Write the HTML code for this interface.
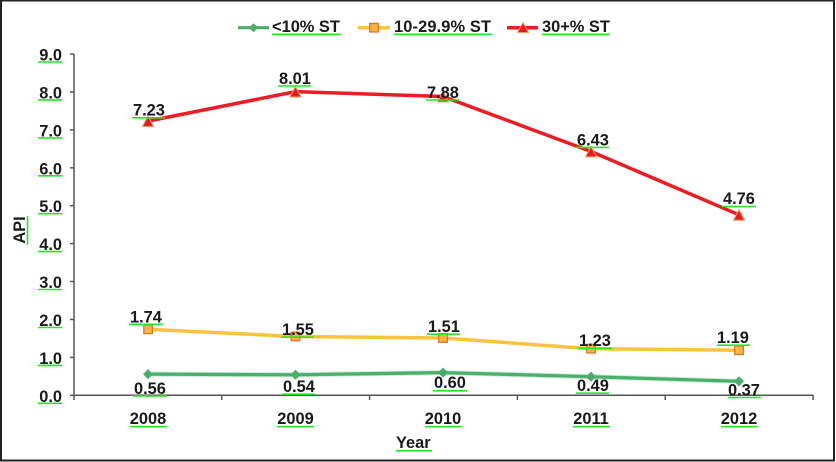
<!DOCTYPE html>
<html>
<head>
<meta charset="utf-8">
<style>
html,body{margin:0;padding:0;background:#fff;}
svg{display:block;}
text{font-family:"Liberation Sans",Arial,sans-serif;font-weight:bold;font-size:16.4px;fill:#1a1a1a;}
</style>
</head>
<body>
<svg width="836" height="462" viewBox="0 0 836 462" xmlns="http://www.w3.org/2000/svg">
<rect x="0" y="0" width="836" height="462" fill="#fff"/>
<rect x="1" y="0.5" width="833" height="460" fill="none" stroke="#222" stroke-width="2"/>

<!-- axes -->
<g stroke="#555" stroke-width="1.5" fill="none">
<line x1="74" y1="54" x2="74" y2="396"/>
<line x1="74" y1="395.3" x2="813" y2="395.3"/>
<line x1="70" y1="54" x2="74" y2="54"/>
<line x1="70" y1="91.9" x2="74" y2="91.9"/>
<line x1="70" y1="129.9" x2="74" y2="129.9"/>
<line x1="70" y1="167.8" x2="74" y2="167.8"/>
<line x1="70" y1="205.7" x2="74" y2="205.7"/>
<line x1="70" y1="243.6" x2="74" y2="243.6"/>
<line x1="70" y1="281.5" x2="74" y2="281.5"/>
<line x1="70" y1="319.5" x2="74" y2="319.5"/>
<line x1="70" y1="357.4" x2="74" y2="357.4"/>
<line x1="70" y1="395.3" x2="74" y2="395.3"/>
<line x1="74" y1="395" x2="74" y2="400"/>
<line x1="221.8" y1="395" x2="221.8" y2="400"/>
<line x1="369.6" y1="395" x2="369.6" y2="400"/>
<line x1="517.4" y1="395" x2="517.4" y2="400"/>
<line x1="665.2" y1="395" x2="665.2" y2="400"/>
<line x1="813" y1="395" x2="813" y2="400"/>
</g>

<!-- y tick labels -->
<g text-anchor="end">
<text x="62" y="60.5">9.0</text>
<text x="62" y="98.4">8.0</text>
<text x="62" y="136.4">7.0</text>
<text x="62" y="174.3">6.0</text>
<text x="62" y="212.2">5.0</text>
<text x="62" y="250.1">4.0</text>
<text x="62" y="288">3.0</text>
<text x="62" y="326">2.0</text>
<text x="62" y="363.9">1.0</text>
<text x="62" y="401.8">0.0</text>
</g>
<g stroke="#22e822" stroke-width="1.6">
<line x1="38" y1="62" x2="62" y2="62"/>
<line x1="38" y1="99.9" x2="62" y2="99.9"/>
<line x1="38" y1="137.9" x2="62" y2="137.9"/>
<line x1="38" y1="175.8" x2="62" y2="175.8"/>
<line x1="38" y1="213.7" x2="62" y2="213.7"/>
<line x1="38" y1="251.6" x2="62" y2="251.6"/>
<line x1="38" y1="289.5" x2="62" y2="289.5"/>
<line x1="38" y1="327.5" x2="62" y2="327.5"/>
<line x1="38" y1="365.4" x2="62" y2="365.4"/>
<line x1="38" y1="403.3" x2="62" y2="403.3"/>
</g>

<!-- x labels -->
<g text-anchor="middle">
<text x="148" y="424">2008</text>
<text x="295.5" y="424">2009</text>
<text x="443" y="424">2010</text>
<text x="591" y="424">2011</text>
<text x="739" y="424">2012</text>
</g>
<g stroke="#22e822" stroke-width="1.6">
<line x1="130" y1="426.7" x2="167" y2="426.7"/>
<line x1="277" y1="426.7" x2="314" y2="426.7"/>
<line x1="425" y1="426.7" x2="462" y2="426.7"/>
<line x1="573" y1="426.7" x2="610" y2="426.7"/>
<line x1="721" y1="426.7" x2="758" y2="426.7"/>
</g>

<!-- axis titles -->
<text x="396" y="448">Year</text>
<line x1="396" y1="450.8" x2="432" y2="450.8" stroke="#22e822" stroke-width="1.6"/>
<text x="0" y="0" transform="translate(25,230) rotate(-90)" text-anchor="middle">API</text>
<line x1="27.5" y1="216" x2="27.5" y2="245" stroke="#22e822" stroke-width="1.6"/>

<!-- series lines -->
<polyline points="148,374.1 295.5,374.8 443,372.6 591,376.7 739,381.3" fill="none" stroke="#8fd3a4" stroke-width="5" stroke-linejoin="round" opacity="0.5"/>
<polyline points="148,374.1 295.5,374.8 443,372.6 591,376.7 739,381.3" fill="none" stroke="#4aae6c" stroke-width="3.2" stroke-linejoin="round"/>
<polyline points="148,329.3 295.5,336.5 443,338.0 591,348.7 739,350.2" fill="none" stroke="#fbc23c" stroke-width="3.5" stroke-linejoin="round"/>
<polyline points="148,121.1 295.5,91.6 443,96.5 591,151.5 739,214.8" fill="none" stroke="#ec1c24" stroke-width="3.5" stroke-linejoin="round"/>

<!-- markers -->
<g fill="#49ad6b">
<polygon points="148,369 153,374.1 148,379.2 143,374.1"/>
<polygon points="295.5,369.7 300.5,374.8 295.5,379.9 290.5,374.8"/>
<polygon points="443,367.5 448,372.6 443,377.7 438,372.6"/>
<polygon points="591,371.6 596,376.7 591,381.8 586,376.7"/>
<polygon points="739,376.2 744,381.3 739,386.4 734,381.3"/>
</g>
<g fill="#f8b444" stroke="#d9792c" stroke-width="1.3">
<rect x="143.8" y="325" width="8.6" height="8.6"/>
<rect x="291.2" y="332.2" width="8.6" height="8.6"/>
<rect x="438.7" y="333.7" width="8.6" height="8.6"/>
<rect x="586.7" y="344.4" width="8.6" height="8.6"/>
<rect x="734.7" y="345.9" width="8.6" height="8.6"/>
</g>
<g fill="#e81c1c" stroke="#f39a5a" stroke-width="1">
<polygon points="148,116 153.5,126.5 142.5,126.5"/>
<polygon points="295.5,86.5 301,97 290,97"/>
<polygon points="443,91.4 448.5,101.9 437.5,101.9"/>
<polygon points="591,146.4 596.5,156.9 585.5,156.9"/>
<polygon points="739,209.7 744.5,220.2 733.5,220.2"/>
</g>

<!-- data labels -->
<g>
<text x="133" y="115.7">7.23</text>
<text x="279" y="84">8.01</text>
<text x="427" y="98">7.88</text>
<text x="577" y="145.5">6.43</text>
<text x="723" y="204">4.76</text>
<text x="130" y="322.5">1.74</text>
<text x="282" y="334.8">1.55</text>
<text x="428" y="332">1.51</text>
<text x="579" y="346">1.23</text>
<text x="717" y="343">1.19</text>
<text x="134" y="393.8">0.56</text>
<text x="283" y="392">0.54</text>
<text x="434" y="388.2">0.60</text>
<text x="577" y="391">0.49</text>
<text x="728" y="395.6">0.37</text>
</g>
<g stroke="#22e822" stroke-width="1.6">
<line x1="132" y1="117.8" x2="165" y2="117.8"/>
<line x1="278" y1="86" x2="311" y2="86"/>
<line x1="426" y1="100" x2="459" y2="100"/>
<line x1="576" y1="147.4" x2="609" y2="147.4"/>
<line x1="722" y1="206.5" x2="756" y2="206.5"/>
<line x1="129" y1="324.3" x2="163" y2="324.3"/>
<line x1="281" y1="337.2" x2="314" y2="337.2"/>
<line x1="427" y1="334.2" x2="460" y2="334.2"/>
<line x1="578" y1="348.3" x2="612" y2="348.3"/>
<line x1="717" y1="345.2" x2="750" y2="345.2"/>
<line x1="133" y1="396" x2="167" y2="396"/>
<line x1="282" y1="394.2" x2="315" y2="394.2"/>
<line x1="433" y1="390.7" x2="467" y2="390.7"/>
<line x1="576" y1="393.2" x2="609" y2="393.2"/>
<line x1="728" y1="397.5" x2="761" y2="397.5"/>
</g>

<!-- legend -->
<line x1="238" y1="27.7" x2="269" y2="27.7" stroke="#4aae6c" stroke-width="3.2"/>
<polygon points="253.5,23.2 258,27.7 253.5,32.2 249,27.7" fill="#49ad6b"/>
<text x="272" y="32">&lt;10% ST</text>
<line x1="272" y1="34.3" x2="341" y2="34.3" stroke="#22e822" stroke-width="1.6"/>

<line x1="358" y1="27.7" x2="390" y2="27.7" stroke="#fbc23c" stroke-width="3.5"/>
<rect x="369.7" y="23.4" width="8.6" height="8.6" fill="#f8b444" stroke="#d9792c" stroke-width="1.3"/>
<text x="394" y="32" textLength="97">10-29.9% ST</text>
<line x1="394" y1="34.3" x2="492" y2="34.3" stroke="#22e822" stroke-width="1.6"/>

<line x1="507" y1="27.7" x2="538" y2="27.7" stroke="#ec1c24" stroke-width="3.5"/>
<polygon points="523,22.5 528.5,32.5 517.5,32.5" fill="#e81c1c" stroke="#f39a5a" stroke-width="1"/>
<text x="542" y="32">30+% ST</text>
<line x1="542" y1="34.3" x2="610" y2="34.3" stroke="#22e822" stroke-width="1.6"/>
</svg>
</body>
</html>
